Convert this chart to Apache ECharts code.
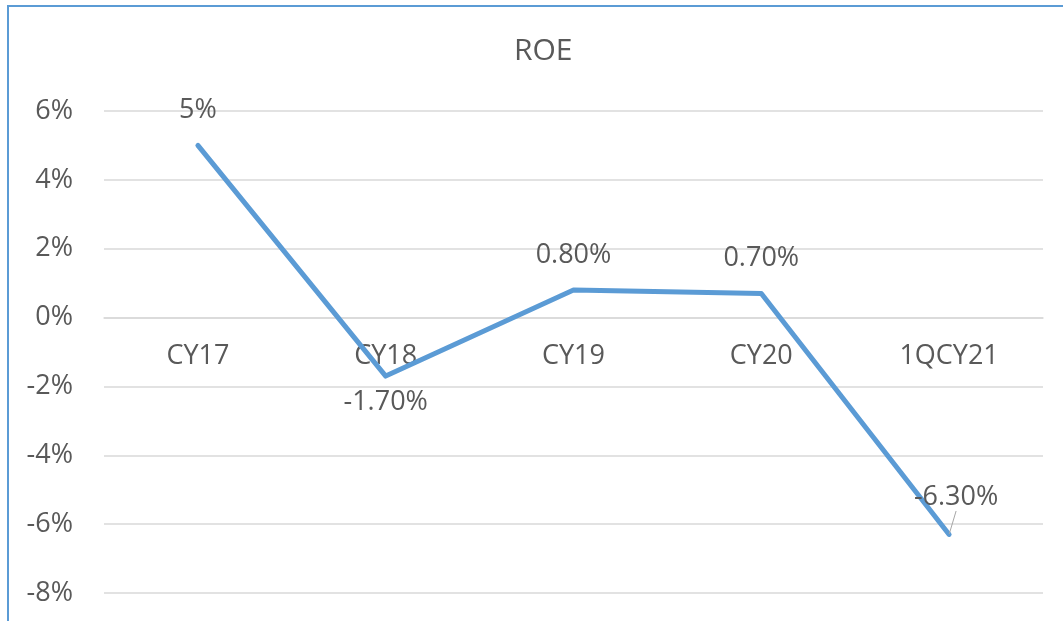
<!DOCTYPE html>
<html>
<head>
<meta charset="utf-8">
<script src="https://cdn.jsdelivr.net/npm/echarts@6/dist/echarts.min.js"></script>
<style>
  html, body { margin: 0; padding: 0; background: #fff; }
  #roe-chart { width: 1063px; height: 621px; }
</style>
</head>
<body>
<div id="roe-chart"></div>
<script>
// values
const categories = ['CY17', 'CY18', 'CY19', 'CY20', '1QCY21']
const roe = [5, -1.7, 0.8, 0.7, -6.3]
const roeLabels = ['5%', '-1.70%', '0.80%', '0.70%', '-6.30%']

const font = '"Open Sans", "Liberation Sans", sans-serif'
const grey = '#595959'

var myChart = echarts.init(document.getElementById('roe-chart'))

var option = {
  animation: false,
  textStyle: { fontFamily: font },
  title: {
    text: 'ROE',
    left: 509,
    top: 31,
    textStyle: { fontFamily: font, fontSize: 30, fontWeight: 'normal', color: grey }
  },
  graphic: [{
    type: 'rect',
    shape: { x: 8, y: 6, width: 1100, height: 700 },
    style: { fill: 'none', stroke: '#5B9BD5', lineWidth: 2 },
    silent: true
  }],
  grid: { left: 104, right: 20, top: 111, bottom: 28, outerBoundsMode: 'none', containLabel: false },
  xAxis: {
    type: 'category',
    data: categories,
    boundaryGap: true,
    offset: -275, // sit the category axis on the 0% line
    axisLine: { onZero: false, lineStyle: { color: '#D9D9D9', width: 1.5 } },
    axisTick: { show: false },
    axisLabel: { color: grey, fontSize: 27, margin: 25, fontFamily: font }
  },
  yAxis: {
    type: 'value',
    min: -8,
    max: 6,
    interval: 2,
    axisLine: { show: false },
    axisTick: { show: false },
    splitLine: { lineStyle: { color: '#D9D9D9', width: 1.5 } },
    axisLabel: { color: grey, fontSize: 27, margin: 31, fontFamily: font, formatter: '{value}%' }
  },
  series: [{
    name: 'ROE',
    type: 'line',
    data: roe.map((v, i) => {
      var item = { value: v }
      if (i === 1) item.label = { position: 'bottom', distance: 12 }
      if (i === 4) item.labelLine = { show: true }
      return item
    }),
    symbol: 'circle',
    symbolSize: 1,
    showSymbol: true,
    itemStyle: { color: '#5B9BD5' },
    lineStyle: { color: '#5B9BD5', width: 5, cap: 'round', join: 'round' },
    label: {
      show: true,
      position: 'top',
      distance: 21,
      color: grey,
      fontSize: 27,
      fontFamily: font,
      formatter: (p) => roeLabels[p.dataIndex]
    },
    labelLine: { show: false, lineStyle: { color: '#A6A6A6', width: 1 } },
    labelLayout: (params) => {
      if (params.dataIndex === 4) return { dx: 7, dy: -2 }
      return {}
    },
    z: 3
  }]
}

option && myChart.setOption(option)
</script>
</body>
</html>
